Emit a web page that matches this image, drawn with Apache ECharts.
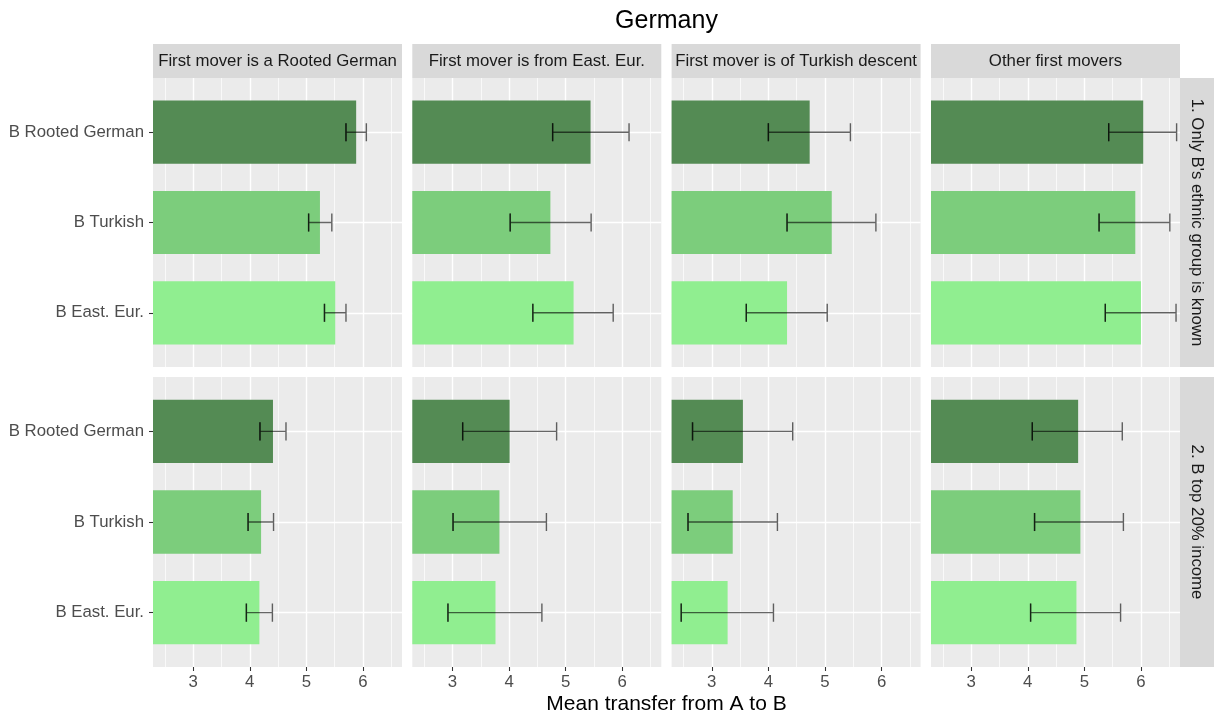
<!DOCTYPE html>
<html><head><meta charset="utf-8">
<script src="https://cdn.jsdelivr.net/npm/echarts@6/dist/echarts.min.js"></script>
<style>html,body{margin:0;padding:0;background:#fff}#c{width:1215px;height:716px}</style>
</head><body><div id="c"></div>
<script>
// ---------- data ----------
const categories = ['B Rooted German', 'B Turkish', 'B East. Eur.'];
const firstMovers = ['First mover is a Rooted German', 'First mover is from East. Eur.', 'First mover is of Turkish descent', 'Other first movers'];
const conditions = ["1. Only B's ethnic group is known", '2. B top 20% income'];
const xTicks = [3, 4, 5, 6];
const xMinorTicks = [2.5, 3.5, 4.5, 5.5, 6.5];
const barColors = ['#548B54', '#7CCD7C', '#90EE90'];

// condition 1: [first mover][B group]
const mean1 = [[5.88, 5.24, 5.51], [5.44, 4.73, 5.14], [4.73, 5.12, 4.33], [6.04, 5.90, 6.00]];
const lo1   = [[5.70, 5.04, 5.32], [4.77, 4.02, 4.42], [4.00, 4.33, 3.61], [5.43, 5.26, 5.37]];
const hi1   = [[6.06, 5.45, 5.70], [6.12, 5.45, 5.84], [5.45, 5.90, 5.04], [6.63, 6.51, 6.62]];
// condition 2
const mean2 = [[4.41, 4.20, 4.17], [4.01, 3.83, 3.76], [3.55, 3.37, 3.28], [4.89, 4.93, 4.86]];
const lo2   = [[4.18, 3.97, 3.94], [3.18, 3.01, 2.92], [2.66, 2.58, 2.46], [4.08, 4.12, 4.05]];
const hi2   = [[4.64, 4.42, 4.40], [4.84, 4.66, 4.58], [4.43, 4.16, 4.09], [5.67, 5.69, 5.64]];

// ---------- layout ----------
const FONT = '"Liberation Sans", Arial, Helvetica, sans-serif';
const colLeft = [153, 412.3, 671.6, 931];
const colW = 249;
const rowTop = [78, 377];
const rowH = [289, 290];
const stripTop = 44, stripH = 34;
const rightStripX = 1180, rightStripW = 34;
const xMin = 2.29, xMax = 6.69;

const allMean = [mean1, mean2], allLo = [lo1, lo2], allHi = [hi1, hi2];

function renderItem(params, api) {
  const yv = api.value(0), m = api.value(1), lo = api.value(2), hi = api.value(3), ci = api.value(4);
  const cs = params.coordSys;
  const start = api.coord([0, yv]);
  const end = api.coord([m, yv]);
  const bh = api.size([0, 0.7])[1];
  const ch = api.size([0, 0.2])[1] / 2;
  const rect = echarts.graphic.clipRectByRect(
    {x: start[0], y: end[1] - bh / 2, width: end[0] - start[0], height: bh},
    {x: cs.x, y: cs.y, width: cs.width, height: cs.height});
  const pLo = api.coord([lo, yv]);
  const pHi = api.coord([hi, yv]);
  const stroke = {stroke: 'rgba(0,0,0,0.6)', lineWidth: 1.4, fill: null};
  const children = [];
  if (rect) children.push({type: 'rect', shape: rect, style: {fill: barColors[ci]}});
  children.push({type: 'polyline', shape: {points: [
      [pLo[0], pLo[1] - ch], [pLo[0], pLo[1] + ch], [pLo[0], pLo[1]],
      [pHi[0], pHi[1]], [pHi[0], pHi[1] - ch], [pHi[0], pHi[1] + ch]]}, style: stroke});
  children.push({type: 'line', shape: {x1: pLo[0], y1: pLo[1] - ch, x2: pLo[0], y2: pLo[1] + ch}, style: stroke});
  return {type: 'group', children: children};
}

const grids = [], xAxes = [], yAxes = [], series = [];
for (let r = 0; r < 2; r++) {
  for (let c = 0; c < 4; c++) {
    const idx = grids.length;
    grids.push({left: colLeft[c], top: rowTop[r], width: colW, height: rowH[r], show: true,
      backgroundColor: '#EBEBEB', borderWidth: 0, containLabel: false, outerBoundsMode: 'none'});
    xAxes.push({gridIndex: idx, type: 'value', min: xMin, max: xMax,
      axisLine: {show: false},
      axisTick: {show: r === 1, customValues: xTicks, length: 4, lineStyle: {color: '#333333', width: 1.07}},
      axisLabel: {show: r === 1, customValues: xTicks, color: '#4D4D4D', fontSize: 16.8, fontFamily: FONT, margin: 7},
      splitLine: {show: true, lineStyle: {color: '#FFFFFF', width: 1.4}}});
    xAxes.push({gridIndex: idx, type: 'value', min: xMin, max: xMax,
      axisLine: {show: false},
      axisTick: {show: false, customValues: xMinorTicks},
      axisLabel: {show: false, customValues: xMinorTicks},
      splitLine: {show: true, lineStyle: {color: '#FFFFFF', width: 0.7}}});
    yAxes.push({gridIndex: idx, type: 'value', min: 0.4, max: 3.6, inverse: true,
      axisLine: {show: false},
      axisTick: {show: c === 0, customValues: [1, 2, 3], length: 4, lineStyle: {color: '#333333', width: 1.07}},
      axisLabel: {show: c === 0, customValues: [1, 2, 3], formatter: v => categories[Math.round(v) - 1],
        color: '#4D4D4D', fontSize: 16.8, fontFamily: FONT, margin: 9},
      splitLine: {show: true, lineStyle: {color: '#FFFFFF', width: 1.4}}});
    series.push({type: 'custom', xAxisIndex: 2 * idx, yAxisIndex: idx, renderItem: renderItem,
      encode: {x: [1, 2, 3], y: 0}, silent: true, animation: false,
      data: categories.map((_, k) => [k + 1, allMean[r][c][k], allLo[r][c][k], allHi[r][c][k], k])});
  }
}

const graphics = [];
graphics.push({type: 'text', x: (colLeft[0] + colLeft[3] + colW) / 2, y: 21,
  style: {text: 'Germany', font: '25px ' + FONT, fill: '#000000', align: 'center', verticalAlign: 'middle'}});
graphics.push({type: 'text', x: (colLeft[0] + colLeft[3] + colW) / 2, y: 704,
  style: {text: 'Mean transfer from A to B', font: '21px ' + FONT, fill: '#000000', align: 'center', verticalAlign: 'middle'}});
for (let c = 0; c < 4; c++) {
  graphics.push({type: 'rect', shape: {x: colLeft[c], y: stripTop, width: colW, height: stripH}, style: {fill: '#D9D9D9'}});
  graphics.push({type: 'text', x: colLeft[c] + colW / 2, y: stripTop + stripH / 2,
    style: {text: firstMovers[c], font: '16.8px ' + FONT, fill: '#1A1A1A', align: 'center', verticalAlign: 'middle'}});
}
for (let r = 0; r < 2; r++) {
  graphics.push({type: 'rect', shape: {x: rightStripX, y: rowTop[r], width: rightStripW, height: rowH[r]}, style: {fill: '#D9D9D9'}});
  graphics.push({type: 'text', x: rightStripX + rightStripW / 2, y: rowTop[r] + rowH[r] / 2, rotation: -Math.PI / 2,
    style: {text: conditions[r], font: '16.8px ' + FONT, fill: '#1A1A1A', align: 'center', verticalAlign: 'middle'}});
}

const chart = echarts.init(document.getElementById('c'));
chart.setOption({
  animation: false,
  backgroundColor: '#FFFFFF',
  grid: grids, xAxis: xAxes, yAxis: yAxes, series: series,
  graphic: graphics
});
</script></body></html>
